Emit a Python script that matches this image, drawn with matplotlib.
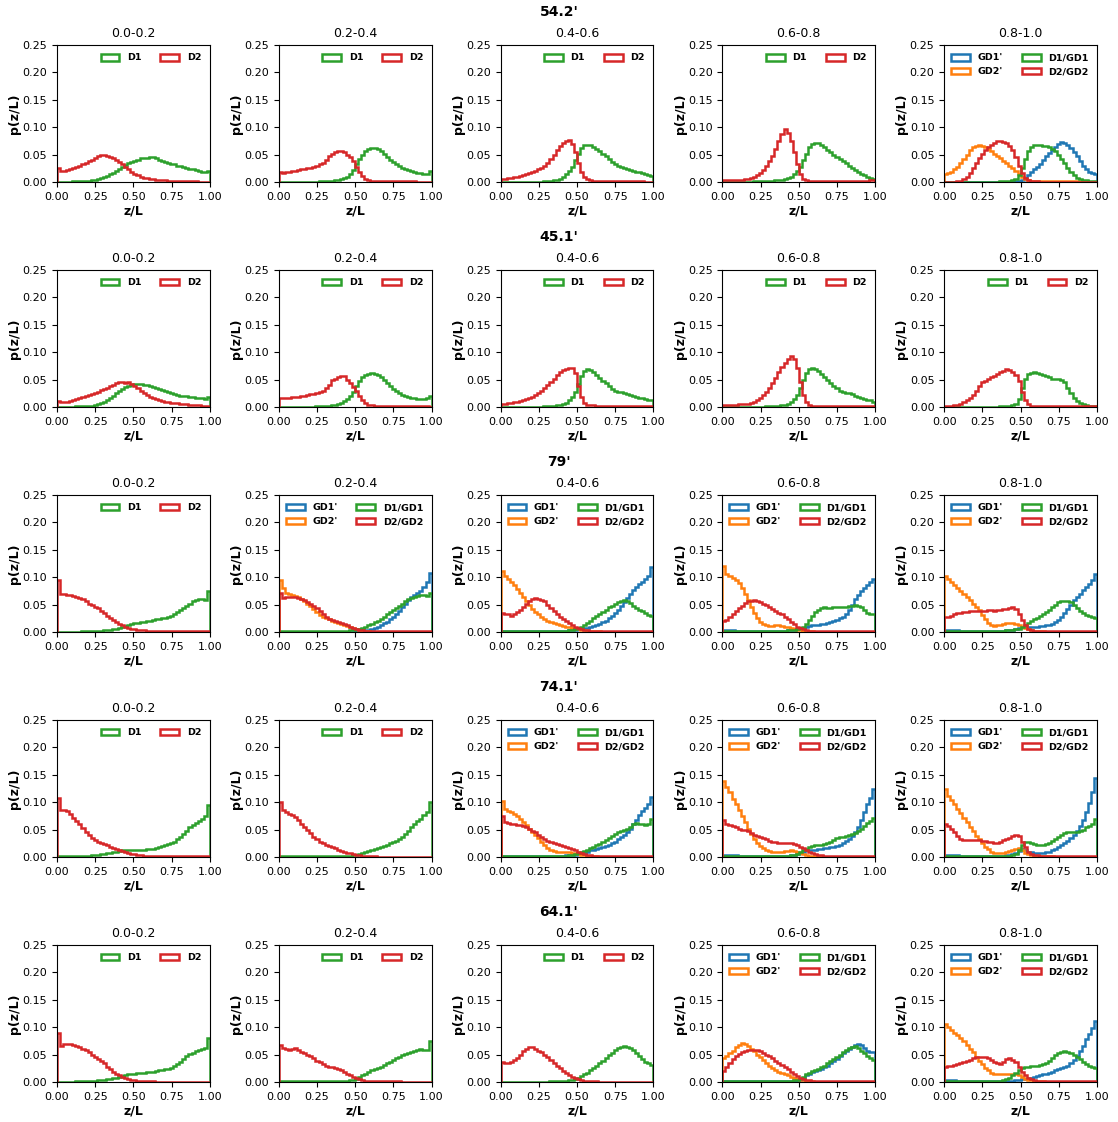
import numpy as np
import matplotlib.pyplot as plt
from matplotlib.ticker import FormatStrFormatter

# p(z/L) per bin (units of 1e-3), 50 bins over z/L = 0..1
# row 1: 54.2'
r1p1_d1 = [0,0,0,0,0, 1,1,1,1,2, 2,3,4,5,7, 9,11,14,17,20, 24,28,31,34,37, 39,41,43,44,44, 45,45,43,41,39, 37,35,33,32,30, 29,27,26,24,23, 22,20,19,18,20]
r1p1_d2 = [26,20,21,22,23, 25,27,29,32,35, 38,41,44,47,50, 50,48,46,44,40, 36,32,27,23,19, 15,12,10,8,7, 6,5,4,4,3, 3,2,2,2,1, 1,1,1,1,1, 1,0,0,0,0]
r1p2_d1 = [0,0,0,0,0, 0,0,0,0,0, 0,0,0,1,1, 1,2,2,3,4, 5,7,10,15,22, 32,42,50,56,60, 62,62,60,56,51, 46,41,36,32,29, 26,24,22,20,18, 17,16,15,15,20]
r1p2_d2 = [18,17,18,19,20, 21,22,23,24,25, 26,28,30,32,35, 40,48,52,55,57, 57,55,50,45,38, 28,18,11,6,3, 2,2,1,1,1, 1,1,1,1,1, 1,1,1,1,1, 0,0,0,0,0]
r1p3_d1 = [0,0,0,0,0, 0,0,0,0,0, 0,0,0,0,1, 1,2,3,4,6, 9,14,20,28,40, 52,62,67,68,67, 64,60,56,52,48, 42,37,33,30,28, 26,24,22,20,19, 18,16,14,12,11]
r1p3_d2 = [5,6,7,8,9, 10,11,12,14,16, 18,20,23,26,30, 35,42,50,58,66, 72,75,76,70,55, 35,18,9,5,3, 2,2,1,1,1, 1,1,1,1,1, 1,1,1,1,1, 1,1,0,0,0]
r1p4_d1 = [0,0,0,0,0, 0,0,0,0,0, 1,1,1,1,1, 2,2,3,3,4, 5,7,10,14,20, 28,40,52,63,69, 72,71,68,64,59, 55,50,46,42,38, 34,30,26,22,18, 15,12,9,7,5]
r1p4_d2 = [3,3,3,3,3, 3,4,5,6,8, 10,13,17,22,30, 38,48,60,75,88, 97,90,75,55,32, 15,6,3,2,1, 1,1,1,1,1, 1,1,1,1,1, 1,1,2,2,2, 2,2,2,3,3]
r1p5_gd1 = [0,0,0,0,0, 0,0,0,0,0, 0,0,0,0,0, 0,0,0,0,0, 0,0,1,1,2, 4,8,13,18,23, 28,33,40,47,53, 59,64,69,73,72, 68,62,55,47,38, 30,23,18,16,15]
r1p5_gd2 = [14,16,19,23,28, 34,42,50,58,63, 66,67,66,64,60, 56,51,47,43,39, 35,30,25,20,15, 10,6,3,2,1, 1,1,1,1,1, 1,2,2,2,2, 2,2,1,1,1, 1,1,0,0,0]
r1p5_dgd1 = [0,0,0,0,0, 0,0,0,0,0, 0,0,0,0,0, 0,0,0,1,1, 1,2,3,6,12, 25,42,56,64,67, 68,67,66,65,63, 60,56,50,42,34, 25,18,12,8,6, 4,3,2,2,1]
r1p5_dgd2 = [0,0,0,0,1, 2,5,10,17,26, 35,44,52,58,63, 68,71,74,74,73, 71,66,58,45,30, 16,7,3,1,1, 1,0,0,0,0, 0,0,0,0,0, 0,0,0,0,0, 0,0,0,0,0]

# row 2: 45.1'
r2p1_d1 = [0,0,0,0,0, 0,1,1,1,1, 2,2,3,5,7, 10,13,17,21,26, 30,33,36,38,40, 42,42,42,41,40, 39,37,35,33,31, 29,27,25,23,22, 21,20,20,19,18, 17,16,16,15,19]
r2p1_d2 = [11,9,9,10,11, 12,14,16,18,20, 22,24,26,28,31, 33,35,38,41,44, 46,45,44,45,42, 38,34,30,26,22, 19,16,14,12,11, 10,9,8,7,7, 6,5,5,4,4, 3,3,2,2,2]
r2p2_d1 = [0,0,0,0,0, 0,0,0,0,0, 0,0,1,1,1, 2,2,3,4,6, 8,11,15,20,28, 38,47,54,58,61, 62,61,58,54,49, 43,38,33,29,25, 22,20,18,17,16, 15,15,15,16,20]
r2p2_d2 = [17,16,17,17,18, 18,19,20,21,22, 23,24,26,28,30, 34,40,50,52,54, 57,56,50,44,37, 29,20,12,7,4, 3,2,2,1,1, 1,1,1,1,1, 1,1,1,1,1, 1,1,1,1,0]
r2p3_d1 = [0,0,0,0,0, 0,0,0,0,0, 0,0,0,0,1, 1,1,2,3,4, 5,8,12,18,28, 42,56,66,69,67, 63,58,53,48,43, 38,33,30,28,27, 26,24,22,20,19, 17,16,14,13,12]
r2p3_d2 = [5,6,7,8,9, 10,11,12,14,16, 19,22,26,30,35, 40,46,52,58,64, 68,70,71,71,62, 38,18,8,4,3, 3,2,2,1,1, 1,1,1,1,1, 1,1,1,1,1, 1,1,1,1,1]
r2p4_d1 = [0,0,0,0,0, 0,0,0,0,0, 0,0,0,0,1, 1,1,2,2,3, 4,6,9,14,22, 35,50,62,70,72, 70,65,60,55,50, 44,39,34,30,28, 26,25,23,21,19, 17,15,13,12,10]
r2p4_d2 = [3,3,3,3,4, 5,5,5,6,8, 10,13,17,22,28, 35,44,53,63,73, 80,88,93,88,72, 45,22,9,4,2, 2,2,1,1,1, 1,1,1,1,1, 1,1,1,1,1, 2,2,2,2,2]
r2p5_d1 = [0,0,0,0,0, 0,0,0,0,0, 0,0,0,0,0, 0,0,0,1,1, 1,2,3,6,15, 35,52,60,62,63, 62,60,58,56,54, 52,52,51,50,45, 35,25,17,11,7, 5,3,2,1,1]
r2p5_d2 = [1,1,2,3,4, 6,9,12,16,22, 30,38,45,48,51, 54,57,60,63,66, 70,68,64,58,48, 28,12,5,2,1, 1,1,1,1,1, 1,1,1,2,2, 2,2,2,2,2, 2,2,1,1,1]

# row 3: 79'
r3p1_d1 = [0,0,0,0,0, 0,0,0,1,1, 1,1,1,2,2, 3,3,4,5,6, 7,9,11,13,15, 16,17,18,19,20, 21,22,23,24,25, 26,27,29,32,36, 40,44,48,52,56, 59,60,61,59,75]
r3p1_d2 = [95,70,70,68,68, 66,64,62,60,56, 52,49,46,43,38, 34,30,26,22,18, 15,12,10,8,6, 5,4,3,3,2, 2,2,1,1,1, 1,1,1,1,1, 1,1,1,1,1, 1,1,1,1,1]
r3p2_gd1 = [0,0,0,0,0, 0,0,0,0,0, 0,0,0,0,0, 0,0,0,0,0, 0,0,0,0,0, 1,1,2,3,4, 6,8,10,13,16, 19,23,27,32,38, 45,52,58,63,68, 71,75,82,92,108]
r3p2_gd2 = [95,80,72,70,68, 66,63,60,56,52, 47,42,36,31,28, 25,23,21,19,17, 15,13,11,9,7, 5,3,2,1,1, 0,0,0,0,0, 0,0,0,0,0, 0,0,0,0,0, 0,0,0,0,0]
r3p2_dgd1 = [1,1,1,1,1, 1,1,1,1,1, 1,1,1,1,1, 1,1,1,1,1, 1,2,2,3,4, 5,6,7,9,12, 15,18,21,24,28, 32,36,40,44,48, 52,56,60,62,64, 66,68,67,65,72]
r3p2_dgd2 = [72,62,64,64,64, 63,62,60,58,55, 52,48,43,38,33, 28,24,22,20,18, 16,14,12,10,8, 6,4,3,2,1, 1,1,1,1,1, 1,1,1,1,1, 1,1,1,1,1, 1,1,1,1,1]
r3p3_gd1 = [2,2,2,2,2, 2,2,2,2,2, 2,2,2,2,2, 2,2,2,2,2, 2,2,3,3,4, 5,6,7,8,9, 11,13,15,18,21, 25,29,34,40,47, 54,62,70,77,83, 88,92,96,102,118]
r3p3_gd2 = [112,102,97,92,86, 79,72,64,56,49, 42,37,32,28,24, 21,18,16,14,12, 11,10,9,8,7, 5,4,3,2,1, 1,1,1,0,0, 0,0,0,0,0, 0,0,0,0,0, 0,0,0,0,0]
r3p3_dgd1 = [1,1,1,1,1, 1,1,1,1,1, 1,1,1,1,1, 1,1,1,1,2, 2,2,3,4,6, 8,10,13,17,21, 25,29,33,37,41, 45,48,52,55,57, 59,57,53,48,44, 41,38,34,31,30]
r3p3_dgd2 = [34,33,33,30,32, 36,41,46,51,56, 60,62,60,58,56, 50,44,38,33,28, 24,20,16,13,10, 8,6,4,3,2, 1,1,1,1,1, 1,1,1,1,1, 1,1,1,1,1, 1,1,1,1,1]
r3p4_gd1 = [3,3,3,3,2, 2,2,2,2,2, 1,1,1,1,1, 1,1,1,2,2, 2,3,3,4,5, 6,8,10,11,12, 13,13,14,15,16, 18,20,22,25,28, 33,40,50,60,68, 75,80,86,92,97]
r3p4_gd2 = [120,105,102,99,95, 89,80,70,58,46, 35,26,19,14,12, 11,11,12,12,11, 10,9,7,5,4, 3,2,1,1,1, 0,0,0,0,0, 0,0,0,0,0, 0,0,0,0,0, 0,0,0,0,0]
r3p4_dgd1 = [1,1,1,1,1, 1,1,1,1,1, 1,1,1,1,1, 1,1,1,1,2, 2,3,3,4,5, 7,10,15,22,30, 36,41,44,45,44, 44,45,46,46,45, 46,47,48,49,48, 45,40,35,33,32]
r3p4_dgd2 = [20,22,28,33,38, 43,48,53,56,57, 58,57,55,52,49, 46,42,38,35,32, 28,23,18,14,10, 7,5,3,2,1, 1,1,1,1,1, 1,1,1,1,1, 1,1,1,1,1, 1,1,1,1,1]
r3p5_gd1 = [3,3,3,3,3, 2,2,2,2,2, 2,2,2,2,2, 2,2,2,2,2, 3,3,4,5,7, 9,10,10,10,10, 10,11,11,12,13, 15,18,22,27,34, 42,50,58,64,70, 76,82,88,95,105]
r3p5_gd2 = [103,96,92,86,80, 74,69,64,58,52, 46,40,31,23,16, 12,11,12,13,14, 16,17,16,14,12, 10,8,5,3,2, 1,1,1,0,0, 0,0,0,0,0, 0,0,0,0,0, 0,0,0,0,0]
r3p5_dgd1 = [1,1,1,1,1, 1,1,1,1,1, 1,1,1,1,1, 1,1,1,2,2, 3,3,4,5,6, 9,12,16,20,23, 26,29,32,36,40, 45,50,55,56,57, 56,54,49,44,39, 34,31,29,27,25]
r3p5_dgd2 = [27,28,30,32,34, 35,36,37,38,38, 38,38,39,39,40, 40,39,40,41,42, 42,44,45,42,32, 22,12,6,3,2, 1,1,1,1,1, 1,1,1,1,1, 1,1,1,1,1, 1,1,1,1,1]

# row 4: 74.1'
r4p1_d1 = [1,1,1,1,1, 1,1,1,2,2, 2,3,3,4,5, 6,7,8,9,10, 11,12,12,12,12, 12,12,12,13,14, 15,15,16,18,20, 22,24,26,28,32, 36,42,48,54,58, 62,66,70,74,95]
r4p1_d2 = [108,86,85,84,78, 72,66,60,53,46, 40,35,31,28,26, 24,21,19,17,15, 13,11,9,7,6, 5,4,3,2,2, 1,1,1,1,1, 1,1,1,1,1, 1,1,1,1,1, 1,1,1,1,1]
r4p2_d1 = [1,1,1,1,1, 1,1,1,1,1, 1,1,1,1,1, 1,1,1,1,1, 1,1,2,2,3, 4,5,7,9,11, 13,14,16,18,20, 22,25,27,30,33, 37,42,48,54,60, 65,70,76,82,100]
r4p2_d2 = [100,86,82,79,77, 73,67,61,55,49, 43,37,32,28,25, 22,20,18,16,13, 11,9,8,7,5, 4,3,2,1,1, 1,1,0,0,0, 0,0,0,0,0, 0,0,0,0,0, 0,0,0,0,0]
r4p3_gd1 = [1,1,1,1,1, 1,1,1,2,2, 2,2,2,2,2, 2,2,2,2,2, 2,3,3,4,4, 5,6,8,10,12, 13,14,16,18,20, 22,25,28,32,36, 40,45,52,60,68, 76,84,90,96,110]
r4p3_gd2 = [102,88,84,82,78, 74,70,64,58,52, 46,40,34,28,22, 17,13,11,10,10, 10,10,9,8,7, 6,4,3,2,1, 1,1,0,0,0, 0,0,0,0,0, 0,0,0,0,0, 0,0,0,0,0]
r4p3_dgd1 = [1,1,1,1,1, 1,1,1,1,1, 1,1,1,1,1, 1,1,1,1,2, 2,2,3,4,5, 7,9,11,13,16, 18,21,24,27,31, 35,39,42,45,48, 50,52,55,60,62, 60,60,58,60,70]
r4p3_dgd2 = [75,64,62,61,60, 59,58,56,54,51, 48,45,41,37,33, 30,28,26,24,22, 20,18,16,14,12, 10,8,6,4,3, 2,1,1,1,1, 1,1,1,1,1, 1,1,1,1,1, 1,1,1,1,1]
r4p4_gd1 = [3,3,3,3,3, 2,2,1,1,1, 1,1,1,1,1, 1,1,1,1,2, 2,2,3,4,6, 8,10,12,12,13, 13,14,15,16,17, 18,19,20,22,25, 29,33,38,45,55, 68,82,96,108,124]
r4p4_gd2 = [138,128,118,106,96, 85,74,63,52,42, 33,26,20,16,13, 11,10,10,10,10, 11,11,12,11,9, 7,5,3,2,1, 1,1,1,0,0, 0,0,0,0,0, 0,0,0,0,0, 0,0,0,0,0]
r4p4_dgd1 = [1,1,1,1,1, 1,1,1,1,1, 1,1,1,1,1, 1,1,1,1,1, 2,2,3,4,6, 9,12,15,18,20, 21,22,22,23,25, 28,31,34,36,37, 38,40,42,44,47, 52,57,62,66,72]
r4p4_dgd2 = [68,61,58,56,54, 51,50,49,47,44, 41,39,36,34,32, 30,28,27,26,25, 25,25,25,24,22, 19,16,13,10,8, 6,4,3,2,1, 1,1,1,1,1, 1,1,1,1,1, 1,1,1,1,1]
r4p5_gd1 = [3,3,3,3,3, 2,1,1,1,1, 1,1,1,1,1, 1,1,1,1,2, 3,4,6,8,11, 14,12,10,9,8, 8,8,8,9,10, 12,15,18,21,25, 29,34,40,47,56, 68,82,98,118,144]
r4p5_gd2 = [124,112,104,96,88, 80,72,63,55,47, 39,32,25,19,14, 10,8,7,7,8, 10,11,12,14,16, 12,8,5,3,2, 1,1,1,1,1, 1,0,0,0,0, 0,0,0,0,0, 0,0,0,0,0]
r4p5_dgd1 = [1,1,1,1,1, 1,1,1,1,1, 1,1,1,1,1, 1,1,1,1,1, 2,2,3,6,12, 22,27,28,25,23, 22,22,22,23,25, 29,33,37,41,43, 45,46,46,46,47, 50,54,57,61,70]
r4p5_dgd2 = [60,56,52,46,38, 32,31,31,31,31, 31,31,30,29,28, 27,26,25,28,31, 33,35,38,40,38, 28,18,10,6,4, 3,2,2,1,1, 1,1,1,1,1, 1,1,1,1,1, 1,1,1,1,1]

# row 5: 64.1'
r5p1_d1 = [0,0,0,0,0, 0,1,1,1,1, 1,2,2,3,3, 4,5,6,7,8, 10,11,13,14,15, 15,16,17,17,18, 19,19,20,21,22, 23,24,26,29,33, 37,42,47,51,53, 56,58,60,62,80]
r5p1_d2 = [90,66,70,70,69, 67,65,63,61,58, 54,50,46,42,38, 34,28,24,19,15, 12,9,7,5,4, 3,2,1,1,1, 1,1,0,0,0, 0,0,0,0,0, 0,0,0,0,0, 0,0,0,0,0]
r5p2_d1 = [1,1,1,1,1, 1,1,1,1,1, 1,1,1,1,1, 1,1,1,1,1, 1,2,2,3,4, 6,9,12,15,18, 21,24,26,28,31, 34,37,40,43,46, 49,51,53,55,57, 59,60,58,58,75]
r5p2_d2 = [68,62,60,59,60, 62,58,55,52,49, 47,43,39,36,33, 30,28,27,26,24, 21,18,15,12,9, 7,5,3,2,1, 1,1,1,1,1, 1,1,1,1,1, 0,0,0,0,0, 0,0,0,0,0]
r5p3_d1 = [0,0,0,0,0, 0,0,0,0,0, 0,0,0,0,0, 0,1,1,1,1, 2,2,3,4,6, 8,11,14,17,21, 25,30,34,39,44, 49,53,58,62,64, 65,64,62,58,53, 48,42,37,34,31]
r5p3_d2 = [36,34,35,37,40, 44,50,56,61,64, 63,60,57,54,50, 45,40,35,30,25, 20,16,12,9,7, 5,3,2,1,1, 1,1,0,0,0, 0,0,0,0,0, 0,0,0,0,0, 0,0,0,0,0]
r5p4_gd1 = [1,1,1,1,1, 1,1,1,1,1, 1,1,1,1,1, 1,1,1,1,1, 1,1,1,1,2, 4,8,12,15,18, 20,22,24,27,30, 34,38,42,47,52, 56,60,64,67,70, 68,62,56,54,55]
r5p4_gd2 = [44,48,52,57,63, 68,72,70,66,61, 56,50,45,40,35, 30,26,22,19,16, 14,12,10,8,6, 4,3,2,1,1, 0,0,0,0,0, 0,0,0,0,0, 0,0,0,0,0, 0,0,0,0,0]
r5p4_dgd1 = [1,1,1,1,1, 1,1,1,1,1, 1,1,1,1,1, 1,1,1,1,1, 1,2,2,3,4, 6,10,14,17,20, 22,24,27,30,34, 38,42,46,50,54, 58,62,64,65,62, 57,52,48,44,40]
r5p4_dgd2 = [20,28,35,42,47, 51,54,56,58,59, 59,58,56,53,50, 47,43,39,35,31, 27,23,19,15,11, 8,6,4,3,2, 1,1,1,1,1, 1,1,1,1,1, 1,1,1,1,1, 1,1,1,1,1]
r5p5_gd1 = [3,3,3,3,2, 2,1,1,1,1, 1,1,1,1,1, 1,1,1,1,1, 1,2,2,3,4, 5,6,7,8,10, 11,12,14,15,17, 19,21,23,25,27, 30,34,40,47,56, 66,78,88,98,112]
r5p5_gd2 = [105,100,95,90,85, 80,74,68,61,54, 46,39,32,26,21, 17,15,15,15,15, 15,15,15,14,12, 9,6,4,3,2, 1,1,1,0,0, 0,0,0,0,0, 0,0,0,0,0, 0,0,0,0,0]
r5p5_dgd1 = [1,1,1,1,1, 1,1,1,1,1, 1,1,1,1,1, 1,1,1,2,3, 5,8,12,17,21, 25,27,28,29,30, 30,31,32,34,38, 44,49,53,55,56, 55,53,50,46,42, 37,33,29,27,25]
r5p5_dgd2 = [28,29,30,31,33, 35,37,39,41,43, 45,46,46,45,43, 40,37,34,33,36, 42,44,41,36,28, 18,12,8,5,3, 2,1,1,1,1, 1,1,1,1,1, 1,1,1,1,1, 1,1,1,1,1]

row_titles = ["54.2'", "45.1'", "79'", "74.1'", "64.1'"]
bin_titles = ['0.0-0.2', '0.2-0.4', '0.4-0.6', '0.6-0.8', '0.8-1.0']

BLUE, ORANGE, GREEN, RED = '#1f77b4', '#ff7f0e', '#2ca02c', '#d62728'


def two(d1, d2):
    return [('D1', GREEN, d1), ('D2', RED, d2)]


def four(gd1, gd2, dgd1, dgd2):
    return [("GD1'", BLUE, gd1), ("GD2'", ORANGE, gd2),
            ('D1/GD1', GREEN, dgd1), ('D2/GD2', RED, dgd2)]


panels = [
    [two(r1p1_d1, r1p1_d2), two(r1p2_d1, r1p2_d2), two(r1p3_d1, r1p3_d2),
     two(r1p4_d1, r1p4_d2), four(r1p5_gd1, r1p5_gd2, r1p5_dgd1, r1p5_dgd2)],
    [two(r2p1_d1, r2p1_d2), two(r2p2_d1, r2p2_d2), two(r2p3_d1, r2p3_d2),
     two(r2p4_d1, r2p4_d2), two(r2p5_d1, r2p5_d2)],
    [two(r3p1_d1, r3p1_d2), four(r3p2_gd1, r3p2_gd2, r3p2_dgd1, r3p2_dgd2),
     four(r3p3_gd1, r3p3_gd2, r3p3_dgd1, r3p3_dgd2),
     four(r3p4_gd1, r3p4_gd2, r3p4_dgd1, r3p4_dgd2),
     four(r3p5_gd1, r3p5_gd2, r3p5_dgd1, r3p5_dgd2)],
    [two(r4p1_d1, r4p1_d2), two(r4p2_d1, r4p2_d2),
     four(r4p3_gd1, r4p3_gd2, r4p3_dgd1, r4p3_dgd2),
     four(r4p4_gd1, r4p4_gd2, r4p4_dgd1, r4p4_dgd2),
     four(r4p5_gd1, r4p5_gd2, r4p5_dgd1, r4p5_dgd2)],
    [two(r5p1_d1, r5p1_d2), two(r5p2_d1, r5p2_d2), two(r5p3_d1, r5p3_d2),
     four(r5p4_gd1, r5p4_gd2, r5p4_dgd1, r5p4_dgd2),
     four(r5p5_gd1, r5p5_gd2, r5p5_dgd1, r5p5_dgd2)],
]

W, H = 1118, 1122
fig, axes = plt.subplots(5, 5, figsize=(W / 100, H / 100), dpi=100)
fig.subplots_adjust(left=57 / W, right=1097 / W, top=1 - 45 / H,
                    bottom=1 - 1082 / H, wspace=0.451, hspace=0.642)

for r in range(5):
    # row heading above the middle column
    fig.text(0.5, 1 - (12 + 225 * r) / H, row_titles[r], ha='center',
             va='center', fontsize=10, fontweight='bold')
    for c in range(5):
        ax = axes[r, c]
        for label, color, vals in panels[r][c]:
            p = np.array(vals) / 1000.0
            edges = np.linspace(0, 1, len(p) + 1)
            centers = 0.5 * (edges[:-1] + edges[1:])
            ax.hist(centers, bins=edges, weights=p, histtype='step',
                    color=color, lw=1.8, label=label)
        ax.set_xlim(0, 1)
        ax.set_ylim(0, 0.25)
        ax.set_xticks([0, 0.25, 0.5, 0.75, 1.0])
        ax.set_yticks([0, 0.05, 0.1, 0.15, 0.2, 0.25])
        ax.xaxis.set_major_formatter(FormatStrFormatter('%.2f'))
        ax.yaxis.set_major_formatter(FormatStrFormatter('%.2f'))
        ax.tick_params(labelsize=8)
        ax.set_title(bin_titles[c], fontsize=9)
        ax.set_xlabel('z/L', fontsize=9, fontweight='bold', labelpad=2)
        ax.set_ylabel('p(z/L)', fontsize=9, fontweight='bold', labelpad=1)
        ax.legend(loc='upper right', ncol=2, frameon=False,
                  prop={'weight': 'bold', 'size': 6.8})

fig.savefig('out.png', dpi=100)
